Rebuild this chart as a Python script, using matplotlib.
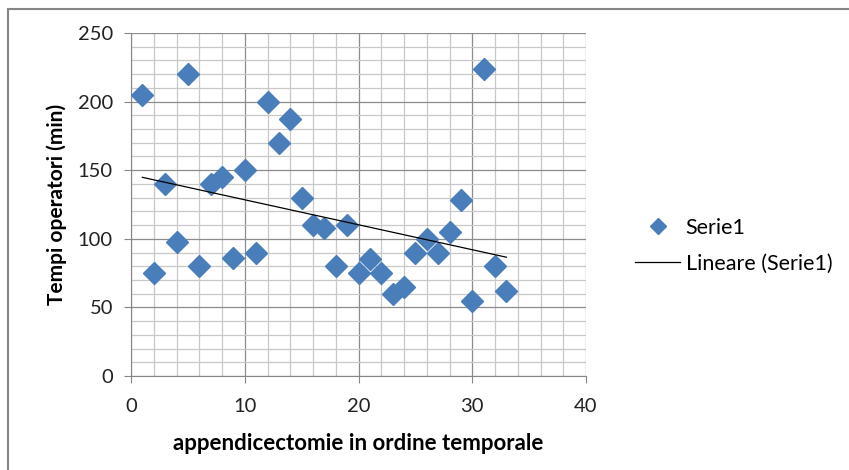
import matplotlib
matplotlib.use("Agg")
import matplotlib.pyplot as plt
import numpy as np
from matplotlib.patches import Rectangle

plt.rcParams['font.family'] = ['Lato', 'DejaVu Sans']

# order of the operation and operating time (min)
x_order = list(range(1, 34))
minutes = [205, 75, 140, 98, 220, 80, 140, 145, 86, 150,
           90, 200, 170, 187, 130, 110, 108, 80, 110, 75,
           85, 75, 60, 65, 90, 100, 90, 105, 128, 55,
           224, 80, 62]

x_ticks = [0, 10, 20, 30, 40]
y_ticks = [0, 50, 100, 150, 200, 250]

fig = plt.figure(figsize=(8.49, 4.70), dpi=100)
ax = fig.add_axes([131 / 849, 1 - 376 / 470, (586 - 131) / 849, (376 - 33) / 470])

# outer chart border (Excel chart area)
fig.patches.append(Rectangle((8 / 849, -0.1), 1.2, 1 - 9 / 470 + 0.1,
                             transform=fig.transFigure, fill=False,
                             edgecolor='#868686', linewidth=1.5))

ax.set_xlim(0, 40)
ax.set_ylim(0, 250)
ax.set_xticks(x_ticks)
ax.set_yticks(y_ticks)
ax.set_xticks(np.arange(0, 41, 2), minor=True)
ax.set_yticks(np.arange(0, 251, 10), minor=True)
ax.grid(which='major', color='#8c8c8c', linewidth=0.9)
ax.grid(which='minor', color='#c8c8c8', linewidth=0.9)
ax.set_axisbelow(True)

for side in ['left', 'bottom']:
    ax.spines[side].set_color('#868686')
for side in ['top', 'right']:
    ax.spines[side].set_visible(False)
ax.tick_params(which='major', direction='out', length=5, color='#868686',
               labelsize=14.5, labelcolor='#222222', pad=8)
ax.tick_params(axis='x', which='major', pad=11)
ax.tick_params(which='minor', length=0)

ax.plot(x_order, minutes, linestyle='none', marker='D', markersize=11,
        color='#4a7ebb', label='Serie1', zorder=3)

coef = np.polyfit(x_order, minutes, 1)
xs = np.array([x_order[0], x_order[-1]])
ax.plot(xs, np.polyval(coef, xs), color='black', linewidth=0.9,
        label='Lineare (Serie1)', zorder=4)

ax.set_xlabel('appendicectomie in ordine temporale', fontsize=16,
              fontweight='bold', labelpad=13)
ax.set_ylabel('Tempi operatori (min)', fontsize=15, fontweight='bold',
              labelpad=8)

leg = ax.legend(loc='center left', bbox_to_anchor=(1.065, 0.38), frameon=False,
                fontsize=15.5, handlelength=2.1, handletextpad=0.25,
                labelspacing=0.75, markerscale=0.7)

fig.savefig('out.png', dpi=100)
